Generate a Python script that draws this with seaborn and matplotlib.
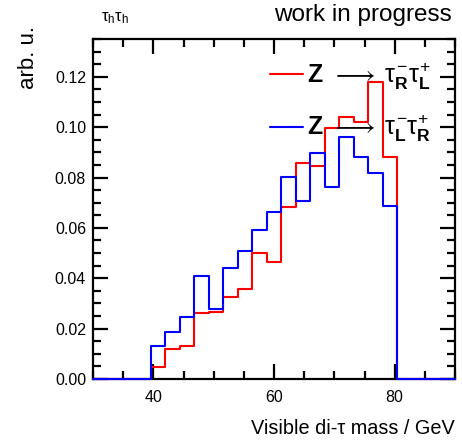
import numpy as np
import pandas as pd
import matplotlib
matplotlib.use("Agg")
import matplotlib.pyplot as plt
from matplotlib.ticker import MultipleLocator, FormatStrFormatter
import seaborn as sns

# ---- data ----
bin_edges = [30.0 + 2.4 * k for k in range(26)]
red_values = [0, 0, 0, 0,
              0.0049, 0.0118, 0.0131, 0.0261, 0.0265, 0.0324, 0.0357, 0.0499,
              0.0466, 0.0682, 0.0859, 0.0846, 0.0995, 0.1039, 0.1022, 0.1180,
              0.0882,
              0, 0, 0, 0]
blue_values = [0, 0, 0, 0,
               0.0131, 0.0185, 0.0245, 0.0409, 0.0278, 0.0442, 0.0508, 0.0591,
               0.0662, 0.0803, 0.0708, 0.0898, 0.0761, 0.0962, 0.0882, 0.0817,
               0.0688,
               0, 0, 0, 0]
red_label = r"$\mathbf{Z}\;\,\longrightarrow\;\tau^{-}_{\mathbf{R}}\tau^{+}_{\mathbf{L}}$"
blue_label = r"$\mathbf{Z}\;\,\longrightarrow\;\tau^{-}_{\mathbf{L}}\tau^{+}_{\mathbf{R}}$"
x_label = "Visible di-\u03c4 mass / GeV"
y_label = "arb. u."
corner_text = r"$\tau_{h}\tau_{h}$"
status_text = "work in progress"

centers = [(bin_edges[i] + bin_edges[i + 1]) / 2 for i in range(len(bin_edges) - 1)]
df_red = pd.DataFrame({"mass": centers, "w": red_values})
df_blue = pd.DataFrame({"mass": centers, "w": blue_values})

sns.set_theme(style="ticks")
plt.rcParams["font.family"] = ["Liberation Sans", "DejaVu Sans"]
plt.rcParams["mathtext.fontset"] = "custom"
plt.rcParams["mathtext.rm"] = "Liberation Sans"
plt.rcParams["mathtext.it"] = "Liberation Sans"
plt.rcParams["mathtext.bf"] = "Liberation Sans:bold"
for k in ["text.color", "axes.labelcolor", "xtick.color", "ytick.color", "axes.edgecolor"]:
    plt.rcParams[k] = "black"

fig = plt.figure(figsize=(4.62, 4.41), dpi=100)
ax = fig.add_axes([93 / 462, 1 - 379 / 441, (455 - 93) / 462, (379 - 38.5) / 441])

sns.histplot(data=df_red, x="mass", weights="w", bins=bin_edges, element="step",
             fill=False, color="#ff0000", linewidth=1.5, label=red_label, ax=ax)
sns.histplot(data=df_blue, x="mass", weights="w", bins=bin_edges, element="step",
             fill=False, color="#0000ff", linewidth=1.5, label=blue_label, ax=ax)
for ln in ax.lines:
    ln.set_zorder(3)
    ln.set_clip_on(False)

ax.set_xlim(30, 90)
ax.set_ylim(0, 0.1352)
ax.xaxis.set_major_locator(MultipleLocator(20))
ax.xaxis.set_minor_locator(MultipleLocator(5))
ax.yaxis.set_major_locator(MultipleLocator(0.02))
ax.yaxis.set_minor_locator(MultipleLocator(0.005))
ax.yaxis.set_major_formatter(FormatStrFormatter("%.2f"))
ax.tick_params(which="both", direction="in", top=True, right=True, width=1.6, color="black")
ax.tick_params(which="major", length=11, labelsize=11.5, pad=5)
ax.tick_params(axis="x", which="major", pad=8)
ax.tick_params(which="minor", length=5.5)
for s in ax.spines.values():
    s.set_linewidth(1.6)
    s.set_color("black")

ax.set_xlabel("")
ax.set_ylabel("")
fig.text(455 / 462, 1 - 434 / 441, x_label, ha="right", va="baseline", fontsize=14.3)
fig.text(29 / 462, 1 - 26 / 441, y_label, ha="center", va="top", rotation=90, fontsize=16)
fig.text(101 / 462, 1 - 21 / 441, corner_text, ha="left", va="baseline", fontsize=12)
fig.text(452 / 462, 1 - 21 / 441, status_text, ha="right", va="baseline", fontsize=17.5)

ax.legend(loc="upper left", bbox_to_anchor=(0.49, 0.935), frameon=False, fontsize=18,
          handlelength=1.3, handletextpad=0.15, labelspacing=0.85, borderpad=0, borderaxespad=0)

fig.savefig("out.png", dpi=100)
